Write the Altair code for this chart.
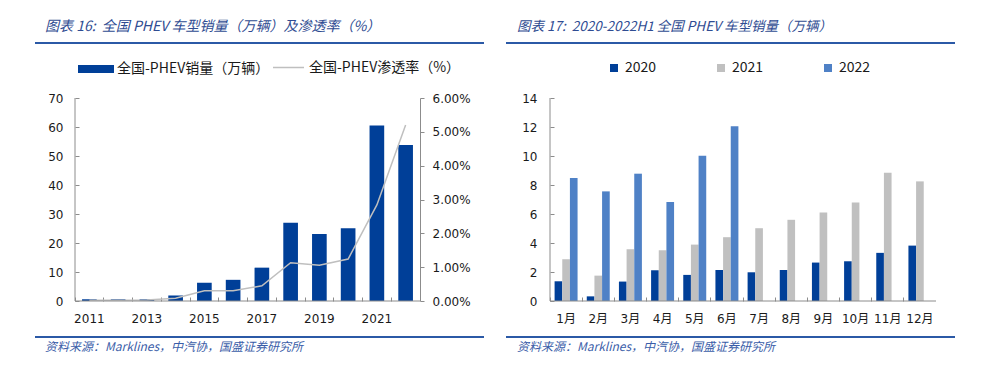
import altair as alt
import pandas as pd

# ---------------- data ----------------
years = ["2011", "2012", "2013", "2014", "2015", "2016", "2017", "2018", "2019", "2020", "2021", "2022"]
year_labels = ["2011", "2013", "2015", "2017", "2019", "2021"]
sales = [0.6, 0.6, 0.6, 1.9, 6.3, 7.3, 11.5, 27.0, 23.1, 25.1, 60.5, 53.8]
penetration = [0.0002, 0.0002, 0.0003, 0.0008, 0.0030, 0.0030, 0.0045, 0.0113, 0.0106, 0.0124, 0.0284, 0.0520]
sales_name = ["全国-PHEV销量（万辆）"]
pen_name = ["全国-PHEV渗透率（%）"]
left_ticks = [0, 10, 20, 30, 40, 50, 60, 70]
right_ticks = [0, 0.01, 0.02, 0.03, 0.04, 0.05, 0.06]

months = ["1月", "2月", "3月", "4月", "5月", "6月", "7月", "8月", "9月", "10月", "11月", "12月"]
series_years = ["2020", "2021", "2022"]
s2020 = [1.36, 0.32, 1.34, 2.12, 1.80, 2.14, 1.98, 2.14, 2.65, 2.74, 3.32, 3.82]
s2021 = [2.88, 1.75, 3.57, 3.50, 3.89, 4.40, 5.02, 5.60, 6.10, 6.80, 8.85, 8.25]
s2022 = [8.48, 7.56, 8.78, 6.82, 10.02, 12.05]
month_ticks = [0, 2, 4, 6, 8, 10, 12, 14]

title_left = ["图表 16:\u00a0\u00a0全国 PHEV 车型销量（万辆）及渗透率（%）"]
title_right = ["图表 17:\u00a0\u00a02020-2022H1 全国 PHEV 车型销量（万辆）"]
source_text = ["资料来源：Marklines，中汽协，国盛证券研究所"]

# ---------------- style ----------------
DARK = "#003F98"
GRAY = "#C0C0C0"
LIGHT = "#4F81C6"
LINE_GRAY = "#BFBFBF"
AXIS_C = "#8C8C8C"
TITLE_C = "#2F4C92"
RULE_C = "#2B59A6"
SRC_C = "#3A5DA8"
LABEL_C = "#1A1A1A"
NUM_FONT = "DejaVu Sans, Noto Sans CJK SC"
CJK_FONT = "Noto Sans CJK SC"

W1, W2, H = 345, 386, 203

one = pd.DataFrame({"k": [0]})


def decorations(width_left_off, rule_end, title, title_x, title_size):
    top_rule = alt.Chart(one).mark_rule(color=RULE_C, strokeWidth=2).encode(
        x=alt.value(width_left_off), x2=alt.value(rule_end), y=alt.value(-55))
    bottom_rule = alt.Chart(one).mark_rule(color=RULE_C, strokeWidth=2).encode(
        x=alt.value(width_left_off), x2=alt.value(rule_end), y=alt.value(239))
    ttl = alt.Chart(pd.DataFrame({"t": title})).mark_text(
        align="left", baseline="middle", font=CJK_FONT, fontSize=title_size,
        fontStyle="italic", color=TITLE_C).encode(
        x=alt.value(title_x), y=alt.value(-71), text="t:N")
    src = alt.Chart(pd.DataFrame({"t": source_text})).mark_text(
        align="left", baseline="middle", font=CJK_FONT, fontSize=12,
        fontStyle="italic", color=SRC_C).encode(
        x=alt.value(title_x), y=alt.value(249), text="t:N")
    return [top_rule, bottom_rule, ttl, src]


def domain_lines(width):
    left = alt.Chart(one).mark_rule(color=AXIS_C, strokeWidth=1).encode(
        x=alt.value(0), y=alt.value(0), y2=alt.value(H))
    bottom = alt.Chart(one).mark_rule(color=AXIS_C, strokeWidth=1).encode(
        x=alt.value(0), x2=alt.value(width), y=alt.value(H))
    return [left, bottom]


# ---------------- left chart ----------------
df1 = pd.DataFrame({"year": years, "sales": sales, "pen": penetration,
                    "s_name": sales_name * len(years), "p_name": pen_name * len(years)})

label_list = "[" + ",".join("'%s'" % y for y in year_labels) + "]"
x1 = alt.X("year:N", sort=years,
           scale=alt.Scale(paddingInner=0, paddingOuter=0),
           axis=alt.Axis(title=None, bandPosition=0, offset=-4,
                         domain=False, tickSize=4, tickColor=AXIS_C, labelAngle=0,
                         labelPadding=12, labelOverlap=False,
                         labelExpr="indexof(%s, datum.value) >= 0 ? datum.value : ''" % label_list))

bars1 = alt.Chart(df1).mark_bar(width=alt.RelativeBandSize(0.51)).encode(
    x=x1,
    y=alt.Y("sales:Q", scale=alt.Scale(domain=[0, 70], nice=False),
            axis=alt.Axis(title=None, values=left_ticks, offset=-4, domain=False,
                          tickSize=4, tickColor=AXIS_C, labelPadding=12, grid=False)),
    fill=alt.Fill("s_name:N", scale=alt.Scale(domain=sales_name, range=[DARK]),
                  legend=alt.Legend(title=None, orient="none", legendX=3, legendY=-47,
                                    symbolType="M-1,-0.222H1V0.222H-1Z", symbolSize=1296,
                                    symbolStrokeWidth=0, labelOffset=3, padding=0,
                                    labelFont=CJK_FONT, labelFontSize=14, labelColor=LABEL_C,
                                    labelLimit=400)),
)

line1 = alt.Chart(df1).mark_line(strokeWidth=1.5).encode(
    x=x1,
    y=alt.Y("pen:Q", scale=alt.Scale(domain=[0, 0.06], nice=False),
            axis=alt.Axis(title=None, orient="right", values=right_ticks, format=".2%",
                          tickSize=4, tickColor=AXIS_C, domain=True, domainColor=AXIS_C,
                          labelPadding=8, grid=False)),
    stroke=alt.Stroke("p_name:N", scale=alt.Scale(domain=pen_name, range=[LINE_GRAY]),
                      legend=alt.Legend(title=None, orient="none", legendX=197, legendY=-47,
                                        symbolType="stroke", symbolSize=961,
                                        symbolStrokeWidth=1.5, labelOffset=4, padding=0,
                                        labelFont=CJK_FONT, labelFontSize=14, labelColor=LABEL_C,
                                        labelLimit=400)),
)

left = alt.layer(
    bars1, line1, *domain_lines(W1), *decorations(-40, 409, title_left, -30, 14)
).resolve_scale(y="independent").properties(width=W1, height=H)

# ---------------- right chart ----------------
rows = []
for i, m in enumerate(months):
    rows.append({"month": m, "year": "2020", "v": s2020[i]})
    rows.append({"month": m, "year": "2021", "v": s2021[i]})
    if i < len(s2022):
        rows.append({"month": m, "year": "2022", "v": s2022[i]})
df2 = pd.DataFrame(rows)

bars2 = alt.Chart(df2).mark_bar().encode(
    x=alt.X("month:N", sort=months, scale=alt.Scale(paddingInner=0, paddingOuter=0),
            axis=alt.Axis(title=None, bandPosition=0, offset=-4,
                          domain=False, tickSize=4, tickColor=AXIS_C, labelAngle=0,
                          labelPadding=12, labelOverlap=False)),
    xOffset=alt.XOffset("year:N", sort=series_years,
                        scale=alt.Scale(domain=series_years, paddingInner=0, paddingOuter=0.6)),
    y=alt.Y("v:Q", scale=alt.Scale(domain=[0, 14], nice=False),
            axis=alt.Axis(title=None, values=month_ticks, offset=-4, domain=False,
                          tickSize=4, tickColor=AXIS_C, labelPadding=13, grid=False)),
    color=alt.Color("year:N", scale=alt.Scale(domain=series_years, range=[DARK, GRAY, LIGHT]),
                    legend=alt.Legend(title=None, orient="none", legendX=57, legendY=-37,
                                      direction="horizontal", symbolType="square",
                                      symbolSize=64, symbolStrokeWidth=0, labelOffset=4,
                                      columnPadding=57, padding=0,
                                      labelFont=CJK_FONT, labelFontSize=14, labelColor=LABEL_C)),
)

right = alt.layer(
    bars2, *domain_lines(W2), *decorations(-44, 405, title_right, -33, 13.5)
).properties(width=W2, height=H)

chart = alt.hconcat(left, right, spacing=130, bounds="flush").resolve_scale(
    color="independent", fill="independent", stroke="independent"
).resolve_legend(
    color="independent", fill="independent", stroke="independent"
).properties(
    padding={"left": 26, "top": 12, "right": 5, "bottom": 5}
).configure_view(stroke=None).configure_axis(
    labelFont=NUM_FONT, labelFontSize=12, labelColor=LABEL_C
)

chart.save("out.html", embed_options={"renderer": "svg", "actions": False})
